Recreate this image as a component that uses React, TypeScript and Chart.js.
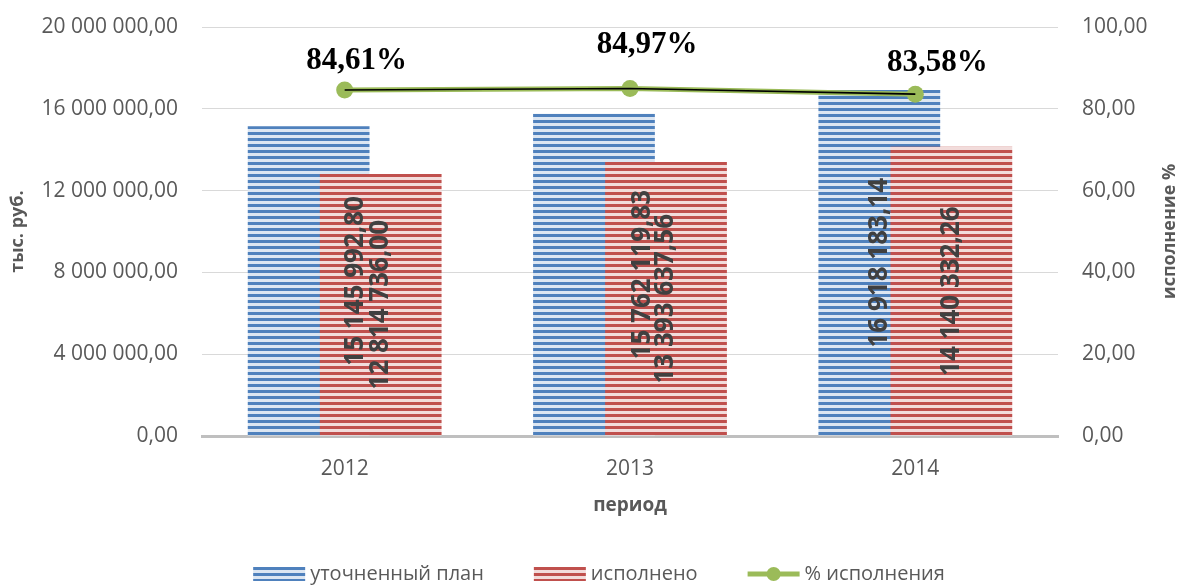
import React, { useEffect, useRef } from "react";
import { Chart, registerables } from "chart.js";

Chart.register(...registerables);

const categories = ["2012", "2013", "2014"];
const planValues = [15145992.8, 15762119.83, 16918183.14];
const doneValues = [12814736.0, 13393637.56, 14140332.26];
const percentValues = [84.61, 84.97, 83.58];
const seriesNames = ["уточненный план", "исполнено", "% исполнения"];
const leftAxisTitle = "тыс. руб.";
const rightAxisTitle = "исполнение %";
const xAxisTitle = "период";

// label nudges (px) – Excel labels were hand-placed
const planLabelShift = [47, 49, 0];
const pctLabelDx = [12, 17, 22];
const pctLabelDy = [-21, -35, -23];

const W = 1182;
const H = 585;

const BLUE_DARK = "#4f81bd";
const BLUE_LIGHT = "#dce6f2";
const RED_DARK = "#c0504d";
const RED_LIGHT = "#f2dcdb";
const GREEN = "#9bbb59";
const TEXT = "#595959";

function fmt(v: number, digits = 2) {
  const [i, d] = v.toFixed(digits).split(".");
  return i.replace(/\B(?=(\d{3})+(?!\d))/g, " ") + "," + d;
}

function stripeCanvas(dark: string, light: string) {
  const c = document.createElement("canvas");
  c.width = 4;
  c.height = 6;
  const g = c.getContext("2d")!;
  g.fillStyle = light;
  g.fillRect(0, 0, 4, 6);
  g.fillStyle = dark;
  g.fillRect(0, 0, 4, 3);
  return c;
}

export default function App() {
  const ref = useRef<HTMLCanvasElement | null>(null);

  useEffect(() => {
    const canvas = ref.current!;
    const ctx = canvas.getContext("2d")!;
    const bluePattern = ctx.createPattern(stripeCanvas(BLUE_DARK, BLUE_LIGHT), "repeat")!;
    const redPattern = ctx.createPattern(stripeCanvas(RED_DARK, RED_LIGHT), "repeat")!;

    const overlay = {
      id: "overlay",
      beforeDatasetDraw(chart: any, args: any) {
        if (args.index === 1) return false;
      },
      afterDatasetDraw(chart: any, args: any) {
        if (args.index === 0) chart.getDatasetMeta(1).controller.draw();
      },
      afterDatasetsDraw(chart: any) {
        const c = chart.ctx;
        c.save();
        c.font = 'bold 26px "Open Sans"';
        c.fillStyle = "#404040";
        c.textAlign = "center";
        c.textBaseline = "middle";
        [0, 1].forEach((di) => {
          const meta = chart.getDatasetMeta(di);
          const vals = di === 0 ? planValues : doneValues;
          meta.data.forEach((bar: any, i: number) => {
            const x = bar.x + (di === 0 ? planLabelShift[i] : 0);
            const y = (bar.y + bar.base) / 2;
            c.save();
            c.translate(x, y);
            c.rotate(-Math.PI / 2);
            c.fillText(fmt(vals[i]), 0, 0);
            c.restore();
          });
        });
        c.font = 'bold 31px "Liberation Serif"';
        c.fillStyle = "#000";
        c.textBaseline = "alphabetic";
        const lm = chart.getDatasetMeta(2);
        lm.data.forEach((pt: any, i: number) => {
          c.fillText(fmt(percentValues[i]) + "%", pt.x + pctLabelDx[i], pt.y + pctLabelDy[i]);
        });
        c.restore();
      },
      afterDraw(chart: any) {
        const c = chart.ctx;
        const area = chart.chartArea;
        c.save();
        c.font = 'bold 18px "Open Sans"';
        c.fillStyle = TEXT;
        c.textAlign = "center";
        c.textBaseline = "middle";
        c.translate(1170, (area.top + area.bottom) / 2);
        c.rotate(-Math.PI / 2);
        c.fillText(rightAxisTitle, 0, 0);
        c.restore();

        c.save();
        c.font = '20px "Open Sans"';
        const boxW = 52;
        const gapText = 5;
        const gapItem = 50;
        const widths = seriesNames.map((n) => c.measureText(n).width);
        const total =
          widths.reduce((a, b) => a + b, 0) + 3 * (boxW + gapText) + 2 * gapItem;
        let x = W / 2 - total / 2 + 8;
        const cy = 574;
        seriesNames.forEach((name, i) => {
          if (i < 2) {
            c.save();
            c.translate(x, cy - 7);
            c.fillStyle = i === 0 ? bluePattern : redPattern;
            c.fillRect(0, 0, boxW, 14);
            c.restore();
          } else {
            c.strokeStyle = GREEN;
            c.lineWidth = 5;
            c.beginPath();
            c.moveTo(x, cy);
            c.lineTo(x + boxW, cy);
            c.stroke();
            c.fillStyle = GREEN;
            c.beginPath();
            c.arc(x + boxW / 2, cy, 7, 0, Math.PI * 2);
            c.fill();
          }
          c.fillStyle = TEXT;
          c.textAlign = "left";
          c.textBaseline = "middle";
          c.fillText(name, x + boxW + gapText, cy);
          x += boxW + gapText + widths[i] + gapItem;
        });
        c.restore();
      },
    };

    const chart = new Chart(canvas, {
      type: "bar",
      data: {
        labels: categories,
        datasets: [
          {
            label: seriesNames[0],
            data: planValues,
            backgroundColor: bluePattern as any,
            borderWidth: 0,
            order: 2,
            yAxisID: "y",
            categoryPercentage: 0.505,
            barPercentage: 1.69,
          },
          {
            label: seriesNames[1],
            data: doneValues,
            backgroundColor: redPattern as any,
            borderWidth: 0,
            order: 3,
            yAxisID: "y",
            categoryPercentage: 0.505,
            barPercentage: 1.69,
          },
          {
            type: "line",
            label: seriesNames[2],
            data: percentValues,
            borderColor: GREEN,
            backgroundColor: GREEN,
            borderWidth: 5,
            pointRadius: 8.5,
            pointBackgroundColor: GREEN,
            pointBorderWidth: 0,
            order: 1,
            yAxisID: "y1",
          } as any,
          {
            type: "line",
            label: "",
            data: percentValues,
            borderColor: "#000",
            borderWidth: 1.6,
            pointRadius: 0,
            order: 0,
            yAxisID: "y1",
          } as any,
        ],
      },
      options: {
        responsive: false,
        animation: false,
        events: [],
        layout: { padding: { top: 27, bottom: 24, left: 0, right: 0 } },
        plugins: {
          legend: { display: false },
          tooltip: { enabled: false },
        },
        scales: {
          x: {
            grid: { display: false, drawTicks: false },
            border: { display: true, color: "#bfbfbf", width: 3 },
            ticks: {
              color: TEXT,
              font: { family: "Open Sans", size: 21 },
              padding: 20,
            },
            title: {
              display: true,
              text: xAxisTitle,
              color: TEXT,
              font: { family: "Open Sans", size: 19, weight: "bold" },
              padding: { top: 0, bottom: 44 },
            },
            afterFit(scale: any) {
              scale.height = 125;
            },
          },
          y: {
            position: "left",
            min: 0,
            max: 20000000,
            grid: {
              color: "#d9d9d9",
              lineWidth: 1,
              drawTicks: true,
              tickLength: 24,
              tickColor: "rgba(0,0,0,0)",
            },
            border: { display: false },
            ticks: {
              stepSize: 4000000,
              color: TEXT,
              font: { family: "Open Sans", size: 21 },
              padding: 0,
              callback: (v: any) => fmt(Number(v)),
            },
            title: {
              display: true,
              text: leftAxisTitle,
              color: TEXT,
              font: { family: "Open Sans", size: 18, weight: "bold" },
              padding: { top: 7, bottom: 0 },
            },
            afterFit(scale: any) {
              scale.width = 202;
            },
          },
          y1: {
            position: "right",
            min: 0,
            max: 100,
            grid: {
              drawOnChartArea: false,
              drawTicks: true,
              tickLength: 24,
              tickColor: "rgba(0,0,0,0)",
            },
            border: { display: false },
            ticks: {
              stepSize: 20,
              color: TEXT,
              font: { family: "Open Sans", size: 21 },
              padding: 0,
              callback: (v: any) => fmt(Number(v)),
            },
            afterFit(scale: any) {
              scale.width = 124;
            },
          },
        },
      } as any,
      plugins: [overlay],
    });
    return () => chart.destroy();
  }, []);

  return (
    <div style={{ position: "absolute", left: 0, top: 0, width: W, height: H, background: "#fff" }}>
      <canvas ref={ref} width={W} height={H} style={{ display: "block" }} />
    </div>
  );
}
